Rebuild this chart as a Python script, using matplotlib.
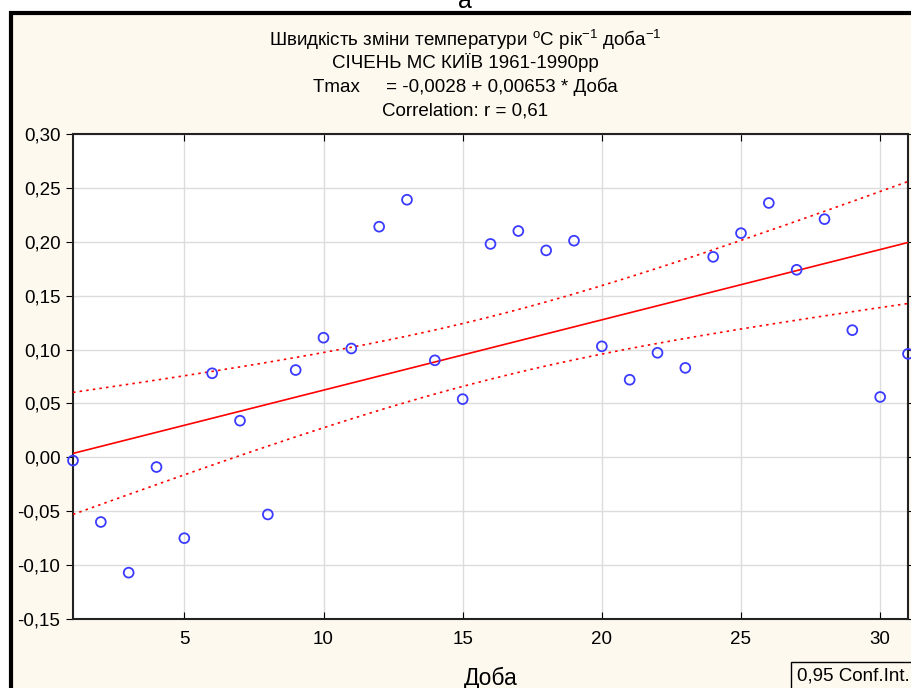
import numpy as np
import matplotlib
matplotlib.use("Agg")
import matplotlib.pyplot as plt
from matplotlib.patches import Rectangle
from matplotlib.ticker import FuncFormatter, MultipleLocator

plt.rcParams['font.family'] = ['Liberation Sans', 'DejaVu Sans']
plt.rcParams['mathtext.fontset'] = 'custom'
plt.rcParams['mathtext.rm'] = 'Liberation Sans'
plt.rcParams['mathtext.it'] = 'Liberation Sans:italic'

days = list(range(1, 32))
rate = [-0.003, -0.060, -0.107, -0.009, -0.075, 0.078, 0.034, -0.053, 0.081, 0.111,
        0.101, 0.214, 0.239, 0.090, 0.054, 0.198, 0.210, 0.192, 0.201, 0.103,
        0.072, 0.097, 0.083, 0.186, 0.208, 0.236, 0.174, 0.221, 0.118, 0.056,
        0.096]
title_lines = ["Швидкість зміни температури $^{\\mathrm{o}}$C рік$^{\\mathrm{-1}}$ доба$^{\\mathrm{-1}}$",
               "СІЧЕНЬ МС КИЇВ 1961-1990рр",
               "Tmax     = -0,0028 + 0,00653 * Доба",
               "Correlation: r = 0,61"]
xlabel = "Доба"
conf_label = "0,95 Conf.Int."
t_crit = 2.045

x = np.array(days, dtype=float)
y = np.array(rate)
b, a = np.polyfit(x, y, 1)
n = len(x)
resid = y - (a + b * x)
s = np.sqrt(np.sum(resid**2) / (n - 2))
xx = np.linspace(1, 31, 200)
yy = a + b * xx
se = s * np.sqrt(1 / n + (xx - x.mean())**2 / np.sum((x - x.mean())**2))

W, H = 912, 688
fig = plt.figure(figsize=(W / 100, H / 100), dpi=100)
fig.patch.set_facecolor('white')
frame = Rectangle((11 / W, -0.05), 1.0, 1 - 12.5 / H + 0.05,
                  transform=fig.transFigure, facecolor='#FEF9EE',
                  edgecolor='black', linewidth=3, zorder=-10)
fig.patches.append(frame)
fig.text(465 / W, 1 - 8 / H, "a", ha='center', va='baseline', fontsize=18)

ys = [40, 62, 87, 111]
for line, yp in zip(title_lines, ys):
    fig.text(465 / W, 1 - yp / H, line, ha='center', va='center', fontsize=13.5)

ax = fig.add_axes([73 / W, 1 - 619 / H, (908 - 73) / W, (619 - 134) / H])
ax.set_zorder(5)
ax.set_facecolor('white')
ax.plot(xx, yy, color='red', lw=1.2, zorder=3)
ax.plot(xx, yy + t_crit * se, color='red', lw=1.2, ls=(0, (1.5, 2.5)), zorder=3)
ax.plot(xx, yy - t_crit * se, color='red', lw=1.2, ls=(0, (1.5, 2.5)), zorder=3)
ax.scatter(x, y, s=50, facecolors='none', edgecolors='#3b3bff', linewidths=1.3,
           zorder=4, clip_on=False)
ax.set_xlim(1, 31)
ax.set_ylim(-0.15, 0.30)
ax.xaxis.set_major_locator(MultipleLocator(5))
ax.yaxis.set_major_locator(MultipleLocator(0.05))
ax.yaxis.set_major_formatter(FuncFormatter(lambda v, p: f"{v:.2f}".replace('.', ',')))
ax.grid(True, color='#dcdcdc', lw=1)
ax.set_axisbelow(True)
for sp in ax.spines.values():
    sp.set_color('#222222')
    sp.set_linewidth(1.5)
ax.tick_params(axis='y', direction='out', length=5, labelsize=13.5, pad=4,
               right=True, labelright=False)
ax.tick_params(axis='x', direction='in', length=5, labelsize=13.5, pad=9,
               top=True)
ax.set_xlabel(xlabel, fontsize=16.5, labelpad=13)

fig.text(797 / W, 1 - 676 / H, conf_label, ha='left', va='center', fontsize=13.5,
         bbox=dict(boxstyle='square,pad=0.3', facecolor='#FEF9EE', edgecolor='black', lw=1))

fig.savefig('out.png', dpi=100, facecolor=fig.get_facecolor())
